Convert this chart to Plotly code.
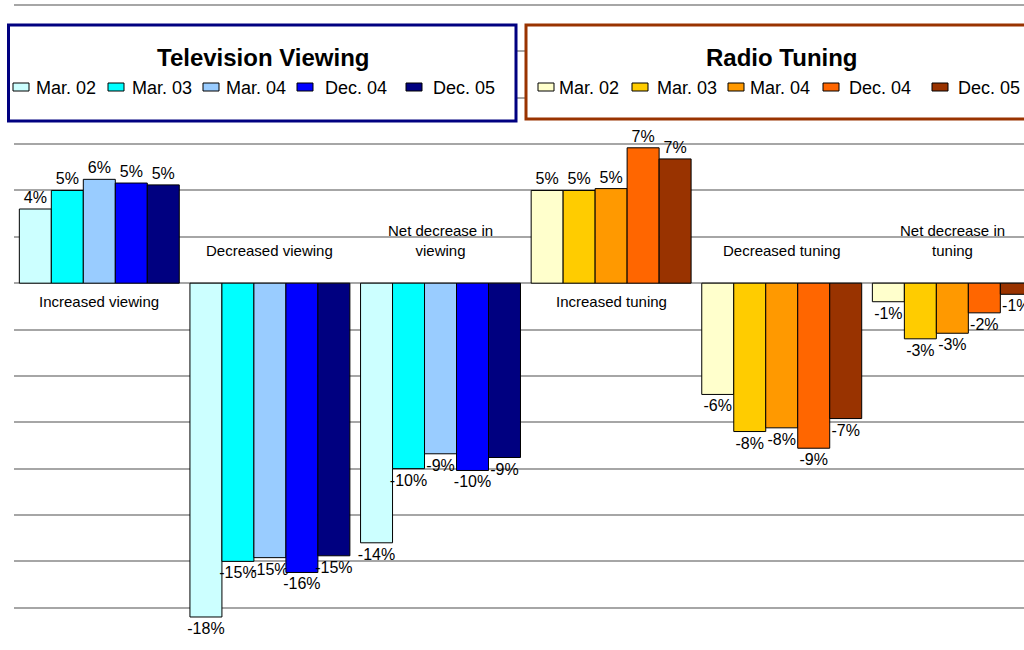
import plotly.graph_objects as go

# categories (three per medium)
categories = ['Increased viewing', 'Decreased viewing', 'Net decrease in<br>viewing',
              'Increased tuning', 'Decreased tuning', 'Net decrease in<br>tuning']
periods = ['Mar. 02', 'Mar. 03', 'Mar. 04', 'Dec. 04', 'Dec. 05']

# television viewing (%), per period: increased, decreased, net decrease
tv_mar02 = [4.0, -18.0, -14.0]
tv_mar03 = [5.0, -15.0, -10.0]
tv_mar04 = [5.6, -14.8, -9.2]
tv_dec04 = [5.4, -15.6, -10.1]
tv_dec05 = [5.3, -14.7, -9.4]

# radio tuning (%), per period: increased, decreased, net decrease
radio_mar02 = [5.0, -6.0, -1.0]
radio_mar03 = [5.0, -8.0, -3.0]
radio_mar04 = [5.1, -7.8, -2.7]
radio_dec04 = [7.3, -8.9, -1.6]
radio_dec05 = [6.7, -7.3, -0.6]

tv_colors = ['#CCFFFF', '#00FFFF', '#99CCFF', '#0000FF', '#000080']
radio_colors = ['#FFFFCC', '#FFCC00', '#FF9900', '#FF6600', '#993300']

FONT = 'Liberation Sans, Arial, sans-serif'
W, H = 1024, 650
ML = 14  # left margin of the plot area


def px(x):
    # page pixel -> paper x
    return (x - ML) / (W - ML)


def py(y):
    # page pixel -> paper y
    return 1 - y / H


fig = go.Figure()

tv_series = [tv_mar02, tv_mar03, tv_mar04, tv_dec04, tv_dec05]
radio_series = [radio_mar02, radio_mar03, radio_mar04, radio_dec04, radio_dec05]

for i, (name, vals) in enumerate(zip(periods, tv_series)):
    fig.add_trace(go.Bar(x=categories[:3], y=vals, name=name, offsetgroup=str(i),
                         marker=dict(color=tv_colors[i], line=dict(color='black', width=1)),
                         texttemplate='%{y:.0f}%', textposition='outside', constraintext='none',
                         cliponaxis=False, textfont=dict(family=FONT, size=16, color='black')))

for i, (name, vals) in enumerate(zip(periods, radio_series)):
    fig.add_trace(go.Bar(x=categories[3:], y=vals, name=name, offsetgroup=str(i),
                         marker=dict(color=radio_colors[i], line=dict(color='black', width=1)),
                         texttemplate='%{y:.0f}%', textposition='outside', constraintext='none',
                         cliponaxis=False, textfont=dict(family=FONT, size=16, color='black')))

# category labels next to the zero line
annotations = []
for i, cat in enumerate(categories):
    positive = i % 3 == 0
    annotations.append(dict(x=cat, y=0, xref='x', yref='y', text=cat, showarrow=False,
                            yanchor='top' if positive else 'bottom',
                            yshift=-8 if positive else 22,
                            font=dict(family=FONT, size=15, color='black')))

# legend boxes with titles
shapes = [
    dict(type='rect', xref='paper', yref='paper', x0=px(8.5), x1=px(516), y0=py(121), y1=py(25),
         line=dict(color='#000080', width=3), fillcolor='white', layer='above'),
    dict(type='rect', xref='paper', yref='paper', x0=px(526), x1=px(1034), y0=py(119), y1=py(25),
         line=dict(color='#993300', width=3), fillcolor='white', layer='above'),
]
annotations.append(dict(x=px(263), y=py(57), xref='paper', yref='paper', text='Television Viewing',
                        xanchor='center', yanchor='middle', showarrow=False,
                        font=dict(family=FONT, size=24, color='black', weight='bold')))
annotations.append(dict(x=px(782), y=py(57), xref='paper', yref='paper', text='Radio Tuning',
                        xanchor='center', yanchor='middle', showarrow=False,
                        font=dict(family=FONT, size=24, color='black', weight='bold')))

# legend entries drawn by hand (symbol left edge, text left edge)
tv_sym_x = [13, 108, 203, 297, 406]
tv_txt_x = [34, 130, 224, 323, 431]
radio_sym_x = [538, 632, 728, 823, 932]
radio_txt_x = [557, 655, 748, 847, 956]

for sym_x, txt_x, colors in [(tv_sym_x, tv_txt_x, tv_colors), (radio_sym_x, radio_txt_x, radio_colors)]:
    for j, name in enumerate(periods):
        shapes.append(dict(type='rect', xref='paper', yref='paper',
                           x0=px(sym_x[j]), x1=px(sym_x[j] + 16), y0=py(91), y1=py(83),
                           line=dict(color='black', width=1), fillcolor=colors[j], layer='above'))
        annotations.append(dict(x=px(txt_x[j]), y=py(88), xref='paper', yref='paper', text=name,
                                xanchor='left', yanchor='middle', showarrow=False,
                                font=dict(family=FONT, size=18, color='black')))

fig.update_layout(
    width=W, height=H,
    margin=dict(l=ML, r=0, t=0, b=0),
    paper_bgcolor='white', plot_bgcolor='white',
    barmode='group', bargap=0.0625, bargroupgap=0,
    showlegend=False,
    xaxis=dict(range=[-0.5, 5.42], showticklabels=False, showgrid=False, zeroline=False,
               showline=False, ticks=''),
    yaxis=dict(range=[-19.78, 15.27], dtick=2.5, tick0=0, showticklabels=False,
               showgrid=True, gridcolor='#A6A6A6', gridwidth=1.5,
               zeroline=True, zerolinecolor='#A6A6A6', zerolinewidth=1.5, showline=False),
    annotations=annotations,
    shapes=shapes,
)

# drop the default page margin so the chart sits at the window's top-left corner
fig.write_html('out.html', config={'displayModeBar': False},
               post_script="document.body.style.margin='0';")
